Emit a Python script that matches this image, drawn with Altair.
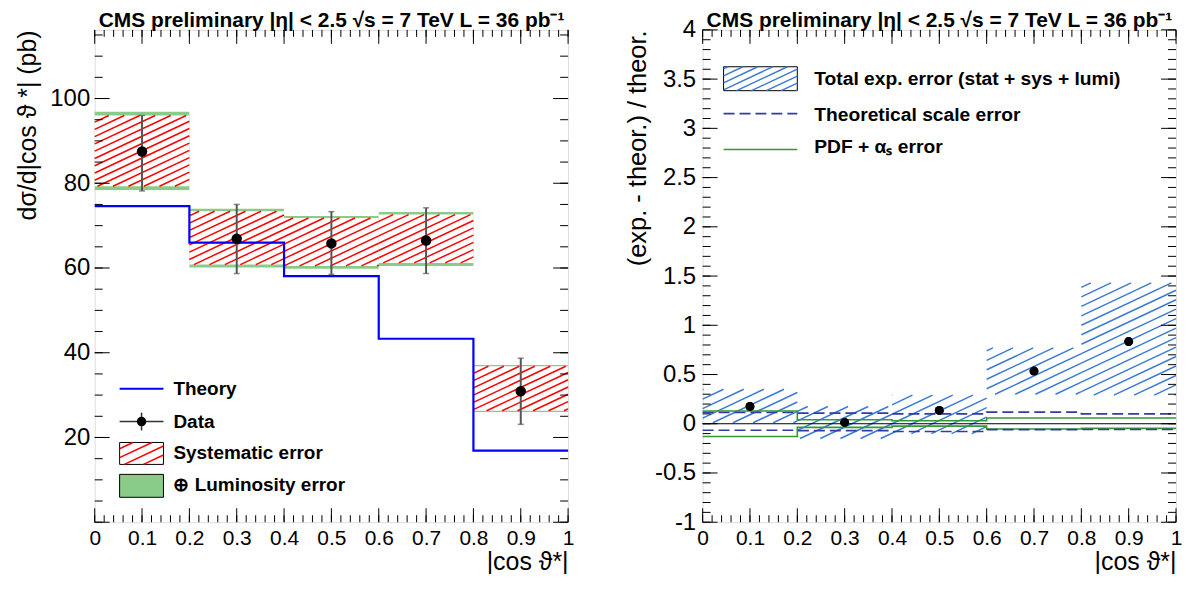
import math
import altair as alt
import pandas as pd

W, H = 475, 494
FONT = "Liberation Sans"

# ---------------- data ----------------
bin_lo = [0.0, 0.2, 0.4, 0.6, 0.8]
bin_hi = [0.2, 0.4, 0.6, 0.8, 1.0]
bin_mid = [0.1, 0.3, 0.5, 0.7, 0.9]

# left panel: cross section (pb)
theory = [74.6, 66.0, 58.1, 43.3, 16.9]
xsec = [87.5, 66.9, 65.8, 66.5, 30.9]
stat_lo = [78.2, 58.7, 58.5, 58.7, 23.1]
stat_hi = [96.0, 75.0, 73.3, 74.2, 38.7]
syst_lo = [79.3, 60.8, 60.5, 61.2, 26.3]
syst_hi = [96.0, 73.4, 71.8, 72.6, 36.8]
lumi_lo = [78.4, 60.1, 59.8, 60.5, 26.0]
lumi_hi = [96.9, 74.0, 72.3, 73.2, 37.1]

# right panel: (exp - theor) / theor
ratio = [0.175, 0.013, 0.135, 0.535, 0.835]
tot_lo = [0.01, -0.15, -0.10, 0.30, 0.29]
tot_hi = [0.35, 0.175, 0.29, 0.77, 1.43]
scale_up = [0.115, 0.108, 0.100, 0.118, 0.100]
scale_dn = [-0.066, -0.070, -0.078, -0.060, -0.058]
pdf_up = [0.130, 0.040, 0.030, 0.058, 0.058]
pdf_dn = [-0.130, -0.037, -0.024, -0.054, -0.047]

# axis ticks / labels
x_labels = [0.0, 0.1, 0.2, 0.3, 0.4, 0.5, 0.6, 0.7, 0.8, 0.9, 1.0]
x_minor = [round(i * 0.02, 2) for i in range(51)]
left_y_labels = [20, 40, 60, 80, 100]
left_y_major = [0, 20, 40, 60, 80, 100]
left_y_minor = [5 * i for i in range(24)]
right_y_labels = [-1, -0.5, 0, 0.5, 1, 1.5, 2, 2.5, 3, 3.5, 4]
right_y_minor = [round(-1 + 0.1 * i, 1) for i in range(51)]

LEFT_YDOM = [0, 116.2]
RIGHT_YDOM = [-1, 4]

TITLE = "CMS preliminary |η| < 2.5 √s = 7 TeV L = 36 pb⁻¹"

RED = "#ff0000"
BLUE_HATCH = "#3c7ad6"
GREEN_FILL = "#88cc88"
THEORY = "#0000ff"
DASH = "#343aa8"
PDF = "#339933"

edges = bin_lo + [bin_hi[-1]]


def step(vals):
    return vals + [vals[-1]]


def hatch_segments(x0, x1, u0, u1, spacing, slope):
    segs = []
    cmin = u0 - slope * x1
    cmax = u1 - slope * x0
    k = math.ceil(cmin / spacing)
    while k * spacing <= cmax:
        c = k * spacing
        xa = max(x0, (u0 - c) / slope)
        xb = min(x1, (u1 - c) / slope)
        if xb - xa > 0.3:
            segs.append((xa, slope * xa + c, xb, slope * xb + c))
        k += 1
    return segs


def band_hatch(lo_list, hi_list, ydom, spacing, slope):
    rows = []
    span = ydom[1] - ydom[0]
    for a, b, lo, hi in zip(bin_lo, bin_hi, lo_list, hi_list):
        u0 = (lo - ydom[0]) / span * H
        u1 = (hi - ydom[0]) / span * H
        for xa, ua, xb, ub in hatch_segments(a * W, b * W, u0, u1, spacing, slope):
            rows.append({"x": xa / W, "y": ydom[0] + ua / H * span,
                         "x2": xb / W, "y2": ydom[0] + ub / H * span})
    return pd.DataFrame(rows)


def legend_hatch(x0, x1, ytop, ybot, spacing, slope):
    rows = []
    for xa, ua, xb, ub in hatch_segments(x0, x1, -ybot, -ytop, spacing, slope):
        rows.append({"x": xa, "y": -ua, "x2": xb, "y2": -ub})
    return pd.DataFrame(rows)


def PX(f):
    return alt.X(f, type="quantitative", scale=None, axis=None)


def PY(f):
    return alt.Y(f, type="quantitative", scale=None, axis=None)


NUM_EXPR = "datum.value < 0 ? '-' + format(-datum.value, '~g') : format(datum.value, '~g')"

X_AXIS = alt.Axis(values=x_labels, labelExpr=NUM_EXPR, labelFlush=False, labelOverlap=False,
                  ticks=False, domain=False, grid=False, labelFontSize=21, labelPadding=5,
                  labelFont=FONT, labelColor="black", title="|cos ϑ*|", titleAnchor="end",
                  titleFont=FONT, titleFontSize=25, titleFontWeight="normal",
                  titleColor="black", titlePadding=1)


def y_axis(vals, title, pad, tpad, tsize):
    return alt.Axis(values=vals, labelExpr=NUM_EXPR, labelFlush=False, labelOverlap=False,
                    ticks=False, domain=False, grid=False, labelFontSize=24, labelPadding=pad,
                    labelFont=FONT, labelColor="black", title=title, titleAnchor="end",
                    titleFont=FONT, titleFontSize=tsize, titleFontWeight="normal",
                    titleColor="black", titlePadding=tpad)


XS = alt.Scale(domain=[0, 1], nice=False, zero=False)


class Panel:
    def __init__(self, ydom, yaxis):
        self.ys = alt.Scale(domain=ydom, nice=False, zero=False)
        self.yaxis = yaxis

    def X(self, f):
        return alt.X(f, type="quantitative", scale=XS, axis=X_AXIS)

    def Y(self, f):
        return alt.Y(f, type="quantitative", scale=self.ys, axis=self.yaxis)

    def ticks(self, y_major, y_minor, ymaj_len=15, ymin_len=8, xmaj_len=14, xmin_len=7):
        out = []
        for vals, ln in [(x_labels, xmaj_len), (x_minor, xmin_len)]:
            d = pd.DataFrame({"v": vals})
            out.append(alt.Chart(d).mark_rule(color="black", strokeWidth=1).encode(
                x=self.X("v"), y=alt.value(H), y2=alt.value(H - ln)))
            out.append(alt.Chart(d).mark_rule(color="black", strokeWidth=1).encode(
                x=self.X("v"), y=alt.value(0), y2=alt.value(ln)))
        for vals, ln in [(y_major, ymaj_len), (y_minor, ymin_len)]:
            d = pd.DataFrame({"v": vals})
            out.append(alt.Chart(d).mark_rule(color="black", strokeWidth=1).encode(
                y=self.Y("v"), x=alt.value(0), x2=alt.value(ln)))
            out.append(alt.Chart(d).mark_rule(color="black", strokeWidth=1).encode(
                y=self.Y("v"), x=alt.value(W), x2=alt.value(W - ln)))
        return out


def title_mark():
    d = pd.DataFrame({"t": [TITLE], "tx": [4], "ty": [-3]})
    return alt.Chart(d).mark_text(align="left", baseline="alphabetic", font=FONT, fontSize=21,
                                  fontWeight="bold", color="black").encode(
        x=PX("tx"), y=PY("ty"), text="t:N")


# ---------------- left panel ----------------
L = Panel(LEFT_YDOM, y_axis(left_y_labels, "dσ/d|cos ϑ *| (pb)", 5, 9, 25))

dfL = pd.DataFrame({"lo": bin_lo, "hi": bin_hi, "mid": bin_mid, "val": xsec,
                    "slo": stat_lo, "shi": stat_hi, "sylo": syst_lo, "syhi": syst_hi,
                    "lulo": lumi_lo, "luhi": lumi_hi})
df_theory = pd.DataFrame({"x": edges, "y": step(theory)})
red_hatch = band_hatch(syst_lo, syst_hi, LEFT_YDOM, 7.3, 0.47)

lumi_rect = alt.Chart(dfL).mark_rect(color=GREEN_FILL).encode(
    x=L.X("lo"), x2="hi:Q", y=L.Y("lulo"), y2="luhi:Q")
syst_rect = alt.Chart(dfL).mark_rect(color="white").encode(
    x=L.X("lo"), x2="hi:Q", y=L.Y("sylo"), y2="syhi:Q")
red_lines = alt.Chart(red_hatch).mark_rule(color=RED, strokeWidth=1.5).encode(
    x=L.X("x"), x2="x2:Q", y=L.Y("y"), y2="y2:Q")
theory_line = alt.Chart(df_theory).mark_line(interpolate="step-after", color=THEORY,
                                             strokeWidth=2.2).encode(
    x=L.X("x"), y=L.Y("y"))
err_L = alt.Chart(dfL).mark_rule(color="#555555", strokeWidth=2).encode(
    x=L.X("mid"), y=L.Y("slo"), y2="shi:Q")
cap_hi_L = alt.Chart(dfL).mark_tick(color="#555555", orient="horizontal", size=6,
                                    thickness=1.5).encode(x=L.X("mid"), y=L.Y("shi"))
cap_lo_L = alt.Chart(dfL).mark_tick(color="#555555", orient="horizontal", size=6,
                                    thickness=1.5).encode(x=L.X("mid"), y=L.Y("slo"))
pts_L = alt.Chart(dfL).mark_circle(color="black", size=110, opacity=1).encode(
    x=L.X("mid"), y=L.Y("val"))

# left legend
legL_text = pd.DataFrame({"label": ["Theory", "Data", "Systematic error", "⊕ Luminosity error"],
                          "tx": [79, 79, 79, 79], "ty": [360, 393, 425, 457]})
legL_rects = pd.DataFrame({"x": [25, 25], "x2": [69, 69], "y": [414, 446], "y2": [436, 469],
                           "f": ["white", GREEN_FILL]})
legL_hatch = legend_hatch(25, 69, 414, 436, 9, 0.47)

leg_L = [
    alt.Chart(legL_rects).mark_rect(stroke="black", strokeWidth=1).encode(
        x=PX("x"), x2="x2:Q", y=PY("y"), y2="y2:Q", fill=alt.Fill("f:N", scale=None)),
    alt.Chart(legL_hatch).mark_rule(color=RED, strokeWidth=1.5).encode(
        x=PX("x"), x2="x2:Q", y=PY("y"), y2="y2:Q"),
    alt.Chart(pd.DataFrame({"x": [25], "x2": [69], "y": [360]})).mark_rule(
        color=THEORY, strokeWidth=2).encode(x=PX("x"), x2="x2:Q", y=PY("y")),
    alt.Chart(pd.DataFrame({"x": [25], "x2": [69], "y": [393]})).mark_rule(
        color="#333333", strokeWidth=1.5).encode(x=PX("x"), x2="x2:Q", y=PY("y")),
    alt.Chart(pd.DataFrame({"x": [47], "y": [384], "y2": [402]})).mark_rule(
        color="#333333", strokeWidth=1.5).encode(x=PX("x"), y=PY("y"), y2="y2:Q"),
    alt.Chart(pd.DataFrame({"x": [47], "y": [393]})).mark_circle(
        color="black", size=90, opacity=1).encode(x=PX("x"), y=PY("y")),
    alt.Chart(legL_text).mark_text(align="left", baseline="middle", font=FONT, fontSize=19,
                                   fontWeight="bold", color="black").encode(
        x=PX("tx"), y=PY("ty"), text="label:N"),
]

left = alt.layer(
    pts_L, lumi_rect, syst_rect, red_lines, theory_line, err_L, cap_hi_L, cap_lo_L,
    alt.Chart(dfL).mark_circle(color="black", size=110, opacity=1).encode(
        x=L.X("mid"), y=L.Y("val")),
    *L.ticks(left_y_major, left_y_minor),
    *leg_L,
    title_mark(),
).properties(width=W, height=H)

# ---------------- right panel ----------------
R = Panel(RIGHT_YDOM, y_axis(right_y_labels, "(exp. - theor.) / theor.", 7, 4, 25.5))
dfR = pd.DataFrame({"mid": bin_mid, "val": ratio})
blue_hatch = band_hatch(tot_lo, tot_hi, RIGHT_YDOM, 9.5, 0.47)

df_dash = pd.DataFrame({"x": edges * 2, "y": step(scale_up) + step(scale_dn),
                        "s": ["u"] * 6 + ["d"] * 6})
df_pdf = pd.DataFrame({"x": edges * 2, "y": step(pdf_up) + step(pdf_dn),
                       "s": ["u"] * 6 + ["d"] * 6})

blue_lines = alt.Chart(blue_hatch).mark_rule(color=BLUE_HATCH, strokeWidth=1.5).encode(
    x=R.X("x"), x2="x2:Q", y=R.Y("y"), y2="y2:Q")
zero_line = alt.Chart(pd.DataFrame({"a": [0.0], "b": [1.0], "z": [0.0]})).mark_rule(
    color="black", strokeWidth=1).encode(x=R.X("a"), x2="b:Q", y=R.Y("z"))
pdf_lines = alt.Chart(df_pdf).mark_line(interpolate="step-after", color=PDF,
                                        strokeWidth=1.6).encode(
    x=R.X("x"), y=R.Y("y"), detail="s:N")
dash_lines = alt.Chart(df_dash).mark_line(interpolate="step-after", color=DASH,
                                          strokeWidth=1.6, strokeDash=[11, 5]).encode(
    x=R.X("x"), y=R.Y("y"), detail="s:N")
pts_R = alt.Chart(dfR).mark_circle(color="black", size=80, opacity=1).encode(
    x=R.X("mid"), y=R.Y("val"))

legR_text = pd.DataFrame({"label": ["Total exp. error (stat + sys + lumi)",
                                    "Theoretical scale error", "PDF + αₛ error"],
                          "tx": [112, 112, 112], "ty": [49, 85, 118]})
legR_hatch = legend_hatch(21, 95, 37, 61, 7, 0.47)
leg_R = [
    alt.Chart(pd.DataFrame({"x": [21], "x2": [95], "y": [37], "y2": [61]})).mark_rect(
        fill="white", stroke="black", strokeWidth=1).encode(
        x=PX("x"), x2="x2:Q", y=PY("y"), y2="y2:Q"),
    alt.Chart(legR_hatch).mark_rule(color=BLUE_HATCH, strokeWidth=1.5).encode(
        x=PX("x"), x2="x2:Q", y=PY("y"), y2="y2:Q"),
    alt.Chart(pd.DataFrame({"x": [21], "x2": [95], "y": [84]})).mark_rule(
        color=DASH, strokeWidth=1.6, strokeDash=[11, 5]).encode(x=PX("x"), x2="x2:Q", y=PY("y")),
    alt.Chart(pd.DataFrame({"x": [21], "x2": [95], "y": [120]})).mark_rule(
        color=PDF, strokeWidth=1.6).encode(x=PX("x"), x2="x2:Q", y=PY("y")),
    alt.Chart(legR_text).mark_text(align="left", baseline="middle", font=FONT, fontSize=19.3,
                                   fontWeight="bold", color="black").encode(
        x=PX("tx"), y=PY("ty"), text="label:N"),
]

right = alt.layer(
    pts_R, blue_lines, pdf_lines, dash_lines, zero_line,
    alt.Chart(dfR).mark_circle(color="black", size=80, opacity=1).encode(
        x=R.X("mid"), y=R.Y("val")),
    *R.ticks(right_y_labels, right_y_minor),
    *leg_R,
    title_mark(),
).properties(width=W, height=H)

chart = alt.hconcat(left, right, spacing=135, bounds="flush").properties(
    padding={"left": 7, "top": 0, "right": 0, "bottom": -2}
).configure_view(stroke="black", strokeWidth=2).configure(background="white")

chart.save("out.html", embed_options={"renderer": "svg", "actions": False})
